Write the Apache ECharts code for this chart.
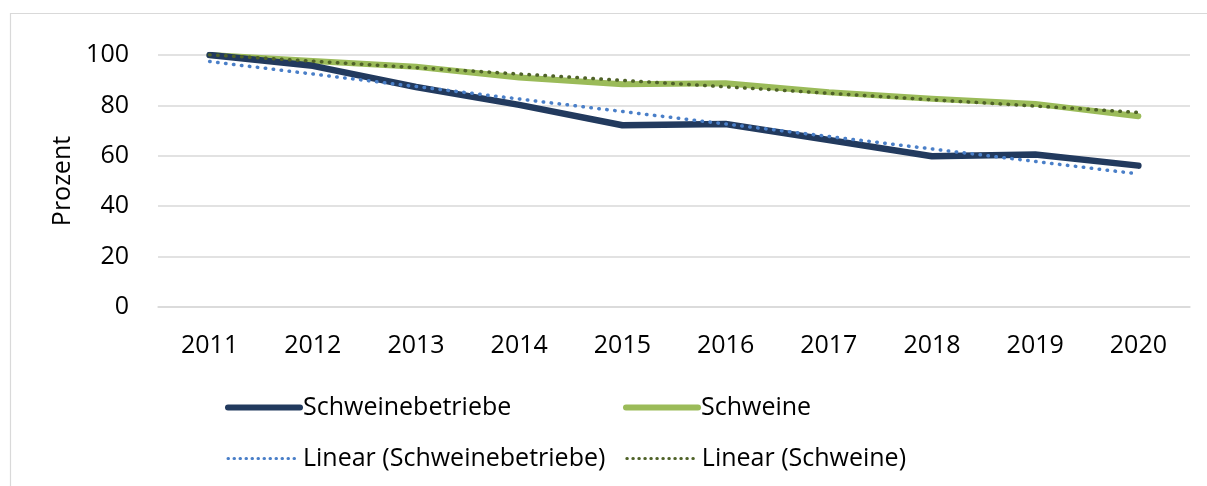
<!DOCTYPE html>
<html>
<head>
<meta charset="utf-8">
<script src="https://cdn.jsdelivr.net/npm/echarts@6/dist/echarts.min.js"></script>
<style>
html,body{margin:0;padding:0;background:#fff;}
#chart{width:1207px;height:486px;}
</style>
</head>
<body>
<div id="chart"></div>
<script>
var years = ['2011','2012','2013','2014','2015','2016','2017','2018','2019','2020'];
var schweinebetriebe = [100, 95.7, 87.3, 80.2, 72.1, 72.6, 66.3, 59.8, 60.5, 56.1];
var schweine = [100, 97.6, 95.3, 91.1, 88.4, 88.8, 85.2, 82.6, 80.6, 75.7];
var trendBetriebe = [97.4, 52.8];   // linear trend at 2011 and 2020
var trendSchweine = [100.1, 77.2];  // linear trend at 2011 and 2020
var yTicks = [0, 20, 40, 60, 80, 100];

var FONT = '"Open Sans", sans-serif';
var chart = echarts.init(document.getElementById('chart'), null, {renderer: 'canvas'});
var dotted = [0.5, 7.5];
var legendDotted = [0.5, 5.5];

chart.setOption({
  backgroundColor: '#fff',
  animation: false,
  graphic: [{
    type: 'rect', left: 8, top: 11,
    shape: {width: 1260, height: 520},
    style: {fill: 'none', stroke: '#d9d9d9', lineWidth: 1.2},
    silent: true
  }],
  grid: {left: 158, right: 17, top: 55, bottom: 179},
  xAxis: {
    type: 'category',
    data: years,
    boundaryGap: true,
    axisLine: {show: true, lineStyle: {color: '#d9d9d9', width: 1.5}},
    axisTick: {show: false},
    axisLabel: {color: '#000', fontFamily: FONT, fontSize: 25, margin: 26}
  },
  yAxis: {
    type: 'value',
    min: yTicks[0], max: yTicks[yTicks.length - 1], interval: 20,
    name: 'Prozent',
    nameLocation: 'middle',
    nameRotate: 90,
    nameGap: 82,
    nameTextStyle: {color: '#000', fontFamily: FONT, fontSize: 25},
    axisLine: {show: false},
    axisTick: {show: false},
    splitLine: {lineStyle: {color: '#d9d9d9', width: 1.5}},
    axisLabel: {color: '#000', fontFamily: FONT, fontSize: 25, margin: 29}
  },
  legend: {
    left: 220, top: 387, width: 800,
    itemWidth: 72, itemHeight: 20, itemGap: 20,
    itemStyle: {opacity: 0},
    textStyle: {color: '#000', fontFamily: FONT, fontSize: 25, width: 300, lineHeight: 31, padding: [0,0,0,-2]},
    data: [
      {name: 'Schweinebetriebe', lineStyle: {width: 6, color: '#223a5e', cap: 'round'}},
      {name: 'Schweine', lineStyle: {width: 6, color: '#9bbb59', cap: 'round'}},
      {name: 'Linear (Schweinebetriebe)', lineStyle: {width: 3, color: '#4a7fc8', type: legendDotted, cap: 'round'}},
      {name: 'Linear (Schweine)', lineStyle: {width: 3, color: '#4f6228', type: legendDotted, cap: 'round'}}
    ]
  },
  series: [
    {
      name: 'Schweinebetriebe', type: 'line', data: schweinebetriebe,
      symbol: 'none', z: 3,
      lineStyle: {color: '#223a5e', width: 6.5, cap: 'round', join: 'round'},
      itemStyle: {color: '#223a5e'}
    },
    {
      name: 'Schweine', type: 'line', data: schweine,
      symbol: 'none', z: 2,
      lineStyle: {color: '#9bbb59', width: 6, cap: 'round', join: 'round'},
      itemStyle: {color: '#9bbb59'}
    },
    {
      name: 'Linear (Schweinebetriebe)', type: 'line',
      data: [[years[0], trendBetriebe[0]], [years[years.length - 1], trendBetriebe[1]]],
      symbol: 'none', z: 4,
      lineStyle: {color: '#4a7fc8', width: 3.5, type: dotted, cap: 'round'},
      itemStyle: {color: '#4a7fc8'}
    },
    {
      name: 'Linear (Schweine)', type: 'line',
      data: [[years[0], trendSchweine[0]], [years[years.length - 1], trendSchweine[1]]],
      symbol: 'none', z: 4,
      lineStyle: {color: '#4f6228', width: 3.5, type: dotted, cap: 'round'},
      itemStyle: {color: '#4f6228'}
    }
  ]
});
</script>
</body>
</html>
